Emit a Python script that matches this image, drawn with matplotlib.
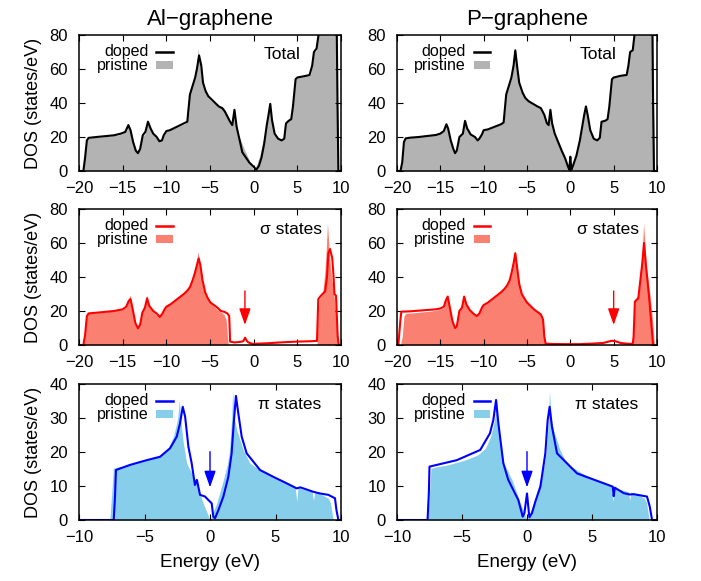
import matplotlib
matplotlib.use("Agg")
import matplotlib.pyplot as plt
from matplotlib.patches import Rectangle

plt.rcParams['font.family'] = ['Liberation Sans', 'DejaVu Sans']

# ---------------- data ----------------
# Total DOS, pristine graphene (shared by both columns)
tot_pri_E = [-20.0, -19.6, -19.4, -19.2, -19.0, -18.5, -17.5, -16.5, -15.5, -15.0, -14.6, -14.3, -14.1,
             -13.8, -13.5, -13.3, -13.1, -12.8, -12.4, -12.15, -11.9, -11.5, -11.0, -10.7, -10.5, -10.2,
             -10.0, -9.5, -9.0, -8.5, -8.0, -7.7, -7.4, -7.1, -6.8, -6.55, -6.35, -6.15, -5.9, -5.5,
             -5.2, -4.8, -4.3, -3.8, -3.4, -3.0, -2.7, -2.5, -2.3, -2.1, -1.8, -1.4, -1.0, -0.6, -0.3,
             0.0, 0.3, 0.7, 1.1, 1.4, 1.6, 1.8, 2.0, 2.3, 2.7, 3.1, 3.4, 3.6, 4.0, 4.3, 4.5, 4.8, 5.0,
             5.8, 6.5, 6.7, 6.9, 7.2, 7.4, 7.6, 9.5, 9.6, 9.7, 10.0]
tot_pri_D = [0, 0, 5, 17, 19.2, 19.6, 20.0, 20.6, 21.2, 22.0, 23.5, 27.5, 25,
             18, 13, 10.5, 12, 20, 22, 29.5, 25, 21.5, 20, 18, 19, 21.5,
             24, 24.5, 25.5, 26.5, 27.5, 28.5, 45, 50, 55, 62, 72, 62, 52, 46,
             43, 41, 39.5, 38, 37, 33, 28, 27, 36, 28, 22, 17, 12, 7.5, 3.5,
             0.3, 3, 9, 18, 27, 33, 38.5, 33, 24, 19, 18, 19.5, 29, 29.5, 30.5, 38, 54, 55,
             56, 56.5, 62, 70, 71, 80, 95, 95, 40, 0, 0]

# Total DOS, Al-doped
tot_al_E = [-20, -19.5, -19.3, -19.1, -18.9, -18, -17, -16, -15.2, -14.7, -14.35, -14.1, -13.8, -13.5,
            -13.25, -13.0, -12.7, -12.4, -12.1, -11.8, -11.5, -11.1, -10.8, -10.5, -10.3, -10.0, -9.6,
            -9.2, -8.8, -8.4, -8.0, -7.6, -7.3, -7.0, -6.7, -6.5, -6.25, -6.0, -5.8, -5.5, -5.2, -4.8,
            -4.4, -4.0, -3.6, -3.3, -3.0, -2.7, -2.45, -2.2, -1.95, -1.6, -1.3, -0.9, -0.5, -0.1, 0.3,
            0.6, 0.9, 1.2, 1.5, 1.7, 1.9, 2.1, 2.4, 2.8, 3.2, 3.5, 3.7, 4.0, 4.3, 4.5, 4.8, 5.0, 5.5,
            6.0, 6.4, 6.7, 6.9, 7.2, 7.4, 7.6, 9.5, 9.6, 9.7, 10]
tot_al_D = [0, 0, 8, 18, 19.5, 20, 20.5, 21, 22, 23, 27, 24, 17, 12,
            10.5, 13, 21, 23, 29, 25, 22, 20, 17.5, 18, 21, 23.5, 24,
            25, 26, 27, 28, 29, 45, 50, 55, 60, 68, 62, 52, 47, 44, 42,
            40, 38, 37, 35, 32, 29, 27, 36, 26, 18, 11, 8, 5, 3, 0.8,
            3, 8, 16, 27, 33, 39.5, 30, 22, 19, 18, 19, 28, 29.5, 30.5, 38, 54, 55, 55.5,
            56, 56.5, 62, 70, 72, 79, 90, 90, 40, 0, 0]

# Total DOS, P-doped
tot_p_E = [-20.0, -19.6, -19.4, -19.2, -19.0, -18.5, -17.5, -16.5, -15.5, -15.0, -14.6, -14.3, -14.1,
           -13.8, -13.5, -13.3, -13.1, -12.8, -12.4, -12.15, -11.9, -11.5, -11.0, -10.7, -10.5, -10.2,
           -10.0, -9.5, -9.0, -8.5, -8.0, -7.7, -7.4, -7.1, -6.8, -6.55, -6.35, -6.15, -5.9, -5.5,
           -5.2, -4.8, -4.3, -3.8, -3.4, -3.0, -2.7, -2.5, -2.3, -2.1, -1.8, -1.4, -1.0, -0.6, -0.3,
           -0.12, 0.0, 0.12, 0.3, 0.7, 1.1, 1.4, 1.6, 1.8, 2.0, 2.3, 2.7, 3.1, 3.4, 3.6, 4.0, 4.3, 4.5,
           4.8, 5.0, 5.8, 6.5, 6.7, 6.9, 7.2, 7.4, 7.6, 9.45, 9.55, 9.65, 10.0]
tot_p_D = [0, 0, 5, 17, 19.2, 19.6, 20.0, 20.6, 21.2, 22.0, 23.5, 27.5, 25,
           18, 13, 10.5, 12, 20, 22, 29.5, 25, 21.5, 20, 18, 19, 21.5,
           24, 24.5, 25.5, 26.5, 27.5, 28.5, 45, 50, 55, 62, 71, 62, 52, 46,
           43, 41, 39.5, 38, 37, 33, 28, 27, 36, 28, 22, 17, 12, 7.5, 3.0,
           0.8, 8.4, 0.8, 3, 9, 18, 27, 33, 38, 33, 24, 19, 18, 19.5, 29, 29.5, 30.5, 38,
           54, 55, 56, 56.5, 62, 70, 71, 80, 95, 95, 40, 0, 0]

# sigma states, pristine
sig_pri_E = [-20, -19.6, -19.4, -19.2, -19.0, -18, -17, -16, -15, -14.6, -14.35, -14.15, -13.9, -13.6,
             -13.3, -13.1, -12.8, -12.5, -12.25, -12.0, -11.6, -11.2, -10.8, -10.5, -10.2, -10.0, -9.5,
             -9, -8.5, -8, -7.6, -7.3, -7.0, -6.8, -6.55, -6.35, -6.15, -5.9, -5.6, -5.3, -5.0, -4.6,
             -4.2, -3.8, -3.4, -3.15, -3.0, -2.9, 7.25, 7.35, 7.5, 7.9, 8.15, 8.3, 8.45, 8.6, 8.8,
             8.95, 9.2, 9.5, 9.65, 9.75, 10]
sig_pri_D = [0, 0, 5, 17, 18.6, 19, 19.5, 20, 21, 22, 27, 29.4, 22, 14,
             10, 11, 20, 22, 29.4, 24, 20, 18, 17, 18.5, 22, 23.5, 25,
             27, 29, 31, 33, 35, 38, 42, 48, 55, 46, 36, 30, 27.4, 25, 23,
             21, 19.5, 18, 15, 5, 0.2, 0.2, 15, 27, 30, 43, 55, 71.6, 60, 45,
             39, 29, 14, 3, 0, 0]

# sigma states, Al-doped
sig_al_E = [-20, -19.5, -19.3, -19.1, -18.9, -18, -17, -16, -15, -14.6, -14.3, -14.1, -13.85, -13.55,
            -13.25, -13.0, -12.75, -12.45, -12.2, -11.95, -11.5, -11.1, -10.75, -10.45, -10.2, -10.0,
            -9.5, -9.0, -8.5, -8.0, -7.6, -7.3, -7.0, -6.75, -6.5, -6.3, -6.1, -5.85, -5.55, -5.25,
            -4.95, -4.55, -4.15, -3.75, -3.35, -3.0, -2.8, -2.7, -2.2, -1.6, -1.2, -0.98, -0.8, -0.6,
            -0.1, 0.5, 1.5, 3.0, 5.0, 6.5, 7.25, 7.4, 7.7, 8.18, 8.4, 8.55, 8.74, 9.0, 9.15, 9.25,
            9.43, 9.62, 9.75, 10]
sig_al_D = [0, 0, 6, 17, 18.6, 19, 19.5, 20, 21, 22.5, 26, 27, 21, 13,
            9.8, 12, 19, 22, 27.5, 23, 20, 18.5, 16.5, 18.5, 21, 22.5,
            24, 26, 28, 30, 32, 34, 38, 42, 47, 51, 47, 38, 31, 27.5,
            25, 23.5, 22, 20, 19.5, 18.5, 17, 2, 1.5, 1.8, 2.2, 4.3, 2.5, 1.5,
            0.6, 0.8, 1.0, 1.5, 2.0, 2.2, 2.4, 27, 29, 31.6, 40, 54, 56.5, 51, 40, 30,
            29, 5, 0, 0]

# sigma states, P-doped
sig_p_E = [-20, -19.85, -19.6, -19.5, -18.5, -17.5, -16.5, -15.5, -15.0, -14.6, -14.35, -14.15, -13.9,
           -13.6, -13.3, -13.1, -12.8, -12.5, -12.25, -12.0, -11.6, -11.2, -10.8, -10.5, -10.2, -10.0,
           -9.5, -9.0, -8.5, -8.0, -7.6, -7.3, -7.0, -6.8, -6.55, -6.35, -6.15, -5.9, -5.6, -5.3, -5.0,
           -4.6, -4.2, -3.8, -3.4, -3.15, -3.0, -2.85, -2.0, -0.5, 1.0, 2.5, 3.8, 4.4, 4.8, 5.2, 5.8,
           6.5, 7.2, 7.3, 7.45, 7.84, 8.1, 8.3, 8.5, 8.7, 8.9, 9.1, 9.35, 9.55, 10]
sig_p_D = [0, 0, 15, 19.6, 19.8, 20.2, 20.6, 21.0, 21.5, 22.5, 26.5, 28.5, 22,
           14, 10, 11, 20, 22, 28.5, 24, 20.5, 18.5, 17, 18.5, 22, 23.5,
           25, 27, 29, 31, 33, 35, 38, 42, 48, 54, 46, 36, 30, 27.4, 25,
           23, 21, 19.5, 18, 15, 5, 0.8, 0.6, 0.5, 0.5, 0.8, 1.2, 2.0, 2.5, 2.2, 1.2,
           0.8, 0.6, 5, 25.5, 27.5, 39, 48, 60, 48, 38, 27.5, 12, 0, 0]

# pi states, pristine
pi_pri_E = [-10, -7.65, -7.5, -7.38, -7.0, -6.1, -4.8, -3.8, -3.2, -2.8, -2.55, -2.45, -2.34, -2.22,
            -2.05, -1.78, -1.15, -0.51, 0.0, 0.51, 1.02, 1.3, 1.47, 1.65, 1.73, 1.85, 2.04, 2.54, 3.05,
            3.82, 4.8, 5.85, 6.5, 6.62, 6.72, 6.9, 7.8, 7.9, 8.0, 8.5, 9.03, 9.2, 9.4, 10]
pi_pri_D = [0, 0, 8, 15.2, 15.6, 16.2, 17.6, 19.1, 21.1, 24.5, 28.4, 30.5, 35.3, 29,
            23, 16.7, 11.8, 4.9, 0, 4.9, 11.8, 16, 19.6, 29.4, 38, 30, 26.5, 20.6, 16.7,
            14.7, 12.5, 10.8, 9.8, 5.4, 9.6, 9.3, 8.3, 5.8, 8.2, 7.5, 6.4, 5, 0, 0]

# pi states, Al-doped
pi_al_E = [-10, -7.35, -7.25, -7.18, -6.11, -4.83, -3.81, -3.05, -2.54, -2.29, -2.08, -1.9, -1.65, -1.4,
           -1.15, -1.0, -0.76, -0.38, -0.13, 0.13, 0.25, 0.38, 0.64, 1.02, 1.4, 1.65, 1.83, 1.98, 2.16,
           2.42, 2.8, 3.82, 4.83, 5.85, 6.62, 6.9, 7.88, 8.4, 9.03, 9.54, 9.65, 9.8, 10]
pi_al_D = [0, 0, 7, 14.7, 16.2, 17.6, 18.6, 21.1, 24.5, 28.4, 33.3, 30.4, 21.6, 16.7,
           10.3, 11.8, 7.4, 6.9, 5.9, 4.9, 1.0, 0.5, 2.9, 6.9, 12.7, 19.6, 29.4, 36.5, 31.4,
           24.5, 19.6, 14.7, 12.7, 10.8, 9.3, 9.6, 8.3, 7.8, 7.4, 6.4, 3, 0, 0]

# pi states, P-doped
pi_p_E = [-10, -7.65, -7.55, -7.5, -5.4, -3.6, -2.85, -2.59, -2.38, -2.2, -1.82, -1.44, -1.05, -0.67,
          -0.33, -0.2, 0.0, 0.18, 0.38, 0.64, 1.03, 1.41, 1.59, 1.74, 1.92, 2.31, 3.85, 5.9, 6.6, 6.67,
          6.75, 7.44, 7.9, 8.2, 9.23, 9.44, 9.62, 10]
pi_p_D = [0, 0, 8, 15.7, 17.6, 20.6, 25.5, 29.4, 35.3, 28.4, 16.7, 11.8, 8.8, 5.9,
          1.0, 2.0, 7.8, 0.8, 2.0, 5.4, 9.8, 19.6, 29.4, 33.3, 27.5, 19.6, 13.7, 10.8, 9.8, 7.0,
          9.5, 7.9, 7.5, 7.6, 6.9, 4.0, 0, 0]

# arrows: (energy, start DOS, tip DOS)
arrow_sig_al = (-1.0, 31.8, 11.8)
arrow_sig_p = (5.0, 31.8, 11.8)
arrow_pi_al = (0.0, 20.1, 9.6)
arrow_pi_p = (0.0, 20.1, 9.6)

col_titles = ["Al\u2212graphene", "P\u2212graphene"]
row_labels = ["Total", "\u03c3 states", "\u03c0 states"]

# ---------------- styling ----------------
GRAY, BLACK = "#b3b3b3", "#000000"
SALMON, RED = "#fa8072", "#ff0000"
SKY, BLUE = "#87ceeb", "#0000ff"

fig = plt.figure(figsize=(7.01, 5.81), dpi=100)
W, H = 701, 581

def ax_at(x0, top, x1, bottom):
    return fig.add_axes([x0 / W, 1 - bottom / H, (x1 - x0) / W, (bottom - top) / H])

cols = [(79, 341), (397, 657)]
rows = [(35, 171), (209, 345), (384, 520)]

panels = [
    [(tot_pri_E, tot_pri_D, tot_al_E, tot_al_D, GRAY, BLACK, None),
     (tot_pri_E, tot_pri_D, tot_p_E, tot_p_D, GRAY, BLACK, None)],
    [(sig_pri_E, sig_pri_D, sig_al_E, sig_al_D, SALMON, RED, arrow_sig_al),
     (sig_pri_E, sig_pri_D, sig_p_E, sig_p_D, SALMON, RED, arrow_sig_p)],
    [(pi_pri_E, pi_pri_D, pi_al_E, pi_al_D, SKY, BLUE, arrow_pi_al),
     (pi_pri_E, pi_pri_D, pi_p_E, pi_p_D, SKY, BLUE, arrow_pi_p)],
]

xlims = [(-20, 10), (-20, 10), (-10, 10)]
ylims = [(0, 80), (0, 80), (0, 40)]
xticks = [range(-20, 11, 5), range(-20, 11, 5), range(-10, 11, 5)]
yticks = [range(0, 81, 20), range(0, 81, 20), range(0, 41, 10)]
label_x = [[0.845, 0.845], [0.928, 0.932], [0.924, 0.928]]
label_y = [0.853, 0.846, 0.846]

for r in range(3):
    for c in range(2):
        ax = ax_at(cols[c][0], rows[r][0], cols[c][1], rows[r][1])
        pE, pD, dE, dD, fcol, lcol, arr = panels[r][c]
        ax.fill_between(pE, 0, pD, color=fcol, lw=0)
        ax.plot(dE, dD, color=lcol, lw=1.5, solid_joinstyle='round')
        ax.set_xlim(*xlims[r])
        ax.set_ylim(*ylims[r])
        ax.set_xticks(list(xticks[r]))
        ax.set_yticks(list(yticks[r]))
        ax.tick_params(direction='in', top=True, right=True, length=4, width=0.8,
                       labelsize=12)
        ax.tick_params(axis='x', pad=7)
        ax.tick_params(axis='y', pad=8)
        for s in ax.spines.values():
            s.set_linewidth(1.1)
        if arr is not None:
            ax.annotate('', xy=(arr[0], arr[2]), xytext=(arr[0], arr[1]),
                        arrowprops=dict(arrowstyle='-|>,head_length=1.0,head_width=0.35',
                                        color=lcol, lw=1.0, shrinkA=0, shrinkB=0))
        # legend key
        ax.text(0.265, 0.877, "doped", transform=ax.transAxes, ha='right', va='center',
                fontsize=11.5)
        ax.text(0.265, 0.778, "pristine", transform=ax.transAxes, ha='right', va='center',
                fontsize=11.5)
        ax.plot([0.295, 0.358], [0.877, 0.877], transform=ax.transAxes, color=lcol, lw=1.8)
        ax.add_patch(Rectangle((0.295, 0.752), 0.063, 0.056, transform=ax.transAxes,
                               color=fcol, lw=0))
        ax.text(label_x[r][c], label_y[r], row_labels[r], transform=ax.transAxes,
                ha='right', va='center', fontsize=12.5)
        if c == 0:
            ax.set_ylabel("DOS (states/eV)", fontsize=13, labelpad=5)
        if r == 0:
            ax.set_title(col_titles[c], fontsize=16, pad=7)
        if r == 2:
            ax.set_xlabel("Energy (eV)", fontsize=13.5, labelpad=7)

fig.savefig("out.png", dpi=100)
